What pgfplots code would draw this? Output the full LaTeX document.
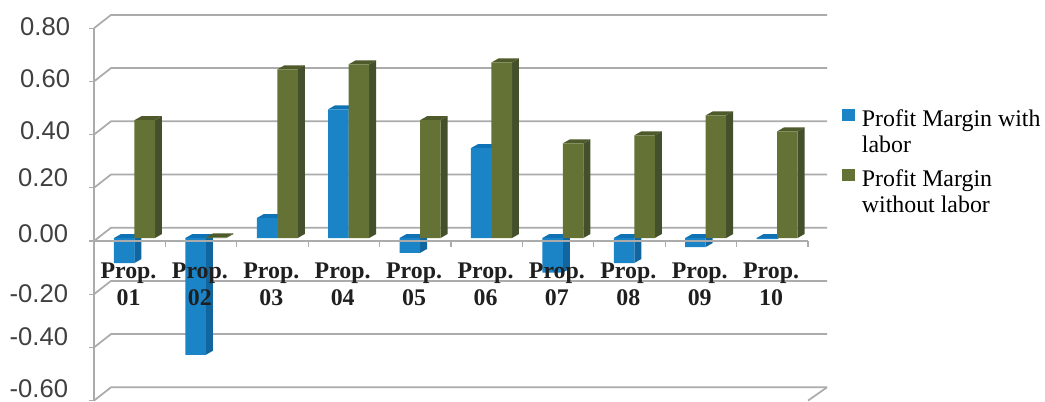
\documentclass[border=0pt]{standalone}
\usepackage{fontspec}
\usepackage{pgfplots}
\usepackage{pgfplotstable}
\pgfplotsset{compat=1.18}
\setmainfont{Liberation Serif}
\newfontfamily\axisfont{Liberation Sans}

\definecolor{gridgray}{HTML}{ABABAB}
\definecolor{bluefront}{HTML}{1A84C7}
\definecolor{blueside}{HTML}{12669F}
\definecolor{bluetop}{HTML}{0F72B5}
\definecolor{greenfront}{HTML}{647236}
\definecolor{greenside}{HTML}{444F2B}
\definecolor{greentop}{HTML}{4F5A2B}

\pgfplotstableread{
pos  with    without
0.5  -0.094  0.443
1.5  -0.439  0.002
2.5   0.075  0.634
3.5   0.484  0.653
4.5  -0.056  0.443
5.5   0.338  0.660
6.5  -0.130  0.356
7.5  -0.094  0.386
8.5  -0.034  0.461
9.5  -0.004  0.401
}\margins

% depth of the extruded bars in data units
\def\depthx{0.098}
\def\depthy{0.015}

% side and top faces of one bar: row, column, left offset, right offset, side colour, top colour
\newcommand\barfaces[6]{%
  \pgfplotstablegetelem{#1}{#2}\of\margins
  \pgfmathsetmacro\val{\pgfplotsretval}%
  \pgfmathsetmacro\lo{min(\val,0)}%
  \pgfmathsetmacro\hi{max(\val,0)}%
  \pgfmathsetmacro\xa{#1+#3}%
  \pgfmathsetmacro\xb{#1+#4}%
  \pgfmathsetmacro\xc{\xa+\depthx}%
  \pgfmathsetmacro\xd{\xb+\depthx}%
  \pgfmathsetmacro\lob{\lo+\depthy}%
  \pgfmathsetmacro\hib{\hi+\depthy}%
  \edef\faces{%
    \noexpand\addplot[fill=#5,draw=none,no marks,forget plot,yshift=2.25pt] coordinates
      {(\xb,\lo) (\xd,\lob) (\xd,\hib) (\xb,\hi)} --cycle;
    \noexpand\addplot[fill=#6,draw=none,no marks,forget plot,yshift=2.25pt] coordinates
      {(\xa,\hi) (\xb,\hi) (\xd,\hib) (\xc,\hib)} --cycle;
  }%
  \faces
}

% back wall line for one value, with its slanted run to the front axis
\newcommand\wallline[1]{%
  \pgfmathsetmacro\wally{#1+0.05}%
  \edef\wall{%
    \noexpand\addplot[gridgray,line width=1.3pt,no marks,forget plot] coordinates
      {(0,#1) (0.238,\wally) (10.266,\wally)};
  }%
  \wall
}

% tick label raised by a number of pixels from its tick
\newcommand\yl[2]{\raisebox{\dimexpr#1pt*3/4-6.8pt\relax}[0pt][0pt]{#2}}

% two-line legend entry, set off from its swatch
\newcommand\entry[2]{\begin{tabular}[t]{@{\hspace{3pt}}l@{}}#1\\[-0.8pt]#2\end{tabular}}

\begin{document}
\begin{tikzpicture}
\useasboundingbox (0,0) rectangle (783.75pt,300.75pt);
\begin{axis}[
  at={(70.5pt,0.3pt)}, anchor=south west,
  scale only axis, width=535.5pt, height=279.3pt,
  axis on top,
  xmin=0, xmax=10, ymin=-0.6, ymax=0.8,
  clip=false,
  axis x line=middle, axis y line=left,
  axis line style={gridgray,line width=1.3pt,-},
  tick align=outside,
  xtick={0.5,1.5,2.5,3.5,4.5,5.5,6.5,7.5,8.5,9.5},
  minor xtick={0,1,2,3,4,5,6,7,8,9,10},
  major x tick style={draw=none},
  minor x tick style={gridgray,line width=1pt},
  minor tick length=4.5pt,
  ytick={-0.6,-0.4,-0.2,0,0.2,0.4,0.6,0.8},
  y tick style={gridgray,line width=1pt},
  major tick length=3.75pt,
  xticklabels={{Prop.\\01},{Prop.\\02},{Prop.\\03},{Prop.\\04},{Prop.\\05},{Prop.\\06},{Prop.\\07},{Prop.\\08},{Prop.\\09},{Prop.\\10}},
  xticklabel style={align=center,inner sep=0pt,text=black!88,
    font=\bfseries\fontsize{17.9}{20.25}\selectfont,yshift=-12.25pt,xshift=-0.9pt},
  yticklabels={\yl{12.6}{-0.60\kern1.5pt},\yl{11}{-0.40\kern1.5pt},\yl{1}{-0.20\kern1.5pt},\yl{8}{0.00\kern1.5pt},\yl{10}{0.20\kern1.5pt},\yl{4}{0.40},\yl{2.5}{0.60},\yl{2}{0.80}},
  yticklabel style={anchor=east,inner sep=0pt,text=black!75,
    font=\axisfont\fontsize{19.2}{22}\selectfont,xshift=-14pt},
  legend style={at={(1.0476,0.794)},anchor=north west,draw=none,fill=none,inner sep=0pt,
    font=\fontsize{17.9}{20.25}\selectfont,row sep=25pt},
  legend cell align=left,
  legend image code/.code={\fill[#1] (0pt,-4.5pt) rectangle (9.75pt,4.5pt);},
]
  % back wall
  \wallline{-0.6}\wallline{-0.4}\wallline{-0.2}\wallline{0}
  \wallline{0.2}\wallline{0.4}\wallline{0.6}\wallline{0.8}
  \addplot[gridgray,line width=1.3pt,no marks,forget plot] coordinates {(10.266,-0.55) (10,-0.6)};

  % profit margin with labor
  \pgfplotsinvokeforeach{0,...,9}{\barfaces{#1}{with}{0.28}{0.567}{blueside}{bluetop}}
  \addplot[ybar,bar width=15.4pt,bar shift=-4.09pt,fill=bluefront,draw=none,yshift=2.25pt]
    table[x=pos,y=with] {\margins};
  \addlegendentry{\entry{Profit Margin with}{labor}}

  % profit margin without labor
  \pgfplotsinvokeforeach{0,...,9}{\barfaces{#1}{without}{0.567}{0.854}{greenside}{greentop}}
  \addplot[ybar,bar width=15.4pt,bar shift=11.29pt,fill=greenfront,draw=none,yshift=2.25pt]
    table[x=pos,y=without] {\margins};
  \addlegendentry{\entry{Profit Margin}{without labor}}
\end{axis}
\end{tikzpicture}
\end{document}
